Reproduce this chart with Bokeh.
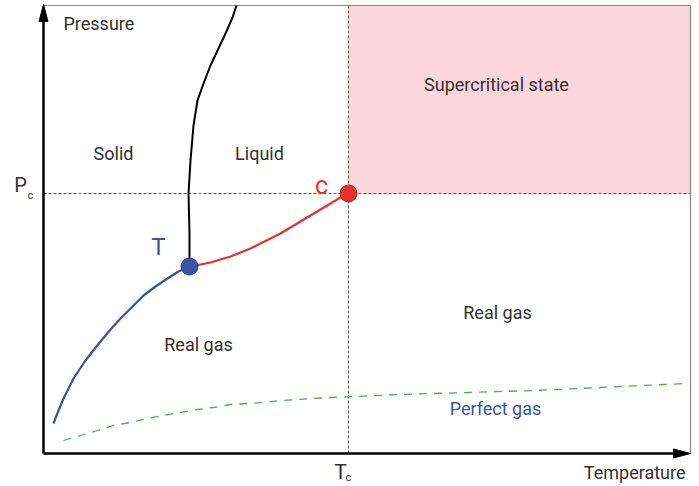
from bokeh.plotting import figure
from bokeh.models import Range1d, Label
from bokeh.embed import file_html
from bokeh.resources import INLINE

# ---- data (chart units: temperature, pressure) ----
T_c = 305
P_c = 260
T_max = 647
P_max = 448
triple_T = [146]
triple_P = [187]

sub_T = [10, 15, 20, 25, 30, 36, 42, 49, 57, 67, 77, 89, 100, 112, 124, 135, 146]
sub_P = [30, 43, 55, 65, 75, 84, 93, 102, 112, 124, 135, 147, 158, 167, 175, 182, 187]
vap_T = [146, 157, 167, 177, 187, 197, 207, 217, 227, 237, 247, 257, 267, 277, 287, 297, 305]
vap_P = [187, 189, 191, 194, 197, 201, 205, 210, 215, 220, 226, 232, 238, 244, 250, 256, 260]
melt_T = [146, 146, 145, 147, 150, 154, 160, 167, 174, 182, 189, 193]
melt_P = [187, 220, 260, 293, 328, 353, 370, 388, 403, 420, 436, 448]
ideal_T = [20, 37, 54, 70, 87, 104, 120, 137, 154, 170, 187, 204, 220, 237, 254, 270, 287, 357, 424, 490, 557, 642]
ideal_P = [13, 18, 23, 28, 31, 35, 38, 41, 44, 46, 49, 50, 51, 53, 54, 55, 56, 59, 61, 63, 66, 70]

FONT = "Roboto"
TXT = "#303030"
BLUE = "#3a53a4"
RED = "#e8302c"
GREEN = "#4cb050"
PINK = "#fbd6da"

# frame covers the whole canvas so that outside texts are not clipped
p = figure(width=696, height=486, x_range=Range1d(-43, 653), y_range=Range1d(-33, 453),
           output_backend="svg", toolbar_location=None,
           x_axis_location=None, y_axis_location=None,
           min_border=0)
p.outline_line_color = None
p.xgrid.visible = False
p.ygrid.visible = False
p.background_fill_color = "white"

# supercritical region
p.quad(left=[T_c], right=[T_max], bottom=[P_c], top=[P_max], fill_color=PINK, line_color=None)

# frame top / right border
p.segment(x0=[0, T_max], y0=[P_max, 0], x1=[T_max, T_max], y1=[P_max, P_max],
          line_color="#888888", line_width=1.2)

# critical dashed lines
p.segment(x0=[0, T_c], y0=[P_c, 0], x1=[T_max, T_c], y1=[P_c, P_max],
          line_color="#555555", line_width=1, line_dash="3 2")

# perfect gas
p.line(ideal_T, ideal_P, line_color=GREEN, line_width=1.3, line_dash="8 7")

# phase boundaries
p.line(sub_T, sub_P, line_color=BLUE, line_width=2.2, line_join="round")
p.line(vap_T, vap_P, line_color=RED, line_width=2.2, line_join="round")
p.line(melt_T, melt_P, line_color="black", line_width=2, line_join="round")

# points
p.scatter(triple_T, triple_P, size=17, fill_color=BLUE, line_color="#2c418a", line_width=1)
p.scatter([T_c], [P_c], size=17, fill_color=RED, line_color="#b82020", line_width=1)

# axes with arrowheads
p.segment(x0=[0, 0], y0=[0, 0], x1=[0, T_max - 10], y1=[P_max - 10, 0],
          line_color="black", line_width=2.5)
HL, HW = 17, 4.5
p.patches(xs=[[-HW, 0, HW], [T_max - HL, T_max, T_max - HL]],
          ys=[[P_max + 1 - HL, P_max + 1, P_max + 1 - HL], [-HW, 0, HW]],
          fill_color="black", line_color="black", line_width=1)

def lab(x, y, t, size="18px", color=TXT, align="center"):
    p.add_layout(Label(x=x, y=y, text=t, text_font=FONT, text_font_size=size,
                       text_color=color, text_align=align, text_baseline="middle"))

lab(20, 430, "Pressure", align="left")
lab(70, 300, "Solid")
lab(216, 300, "Liquid")
lab(453, 369, "Supercritical state")
lab(454, 141, "Real gas")
lab(155, 109, "Real gas")
lab(452, 45, "Perfect gas", color=BLUE)
lab(115, 207, "T", size="24px", color=BLUE)
lab(278, 268, "c", size="25px", color=RED)
lab(-23, 269, "P", size="20px")
lab(-13, 258, "c", size="11px")
lab(297, -18, "T", size="21px")
lab(305, -24, "c", size="11px")
lab(642, -19, "Temperature", align="right")

open("out.html", "w").write(file_html(p, INLINE))
